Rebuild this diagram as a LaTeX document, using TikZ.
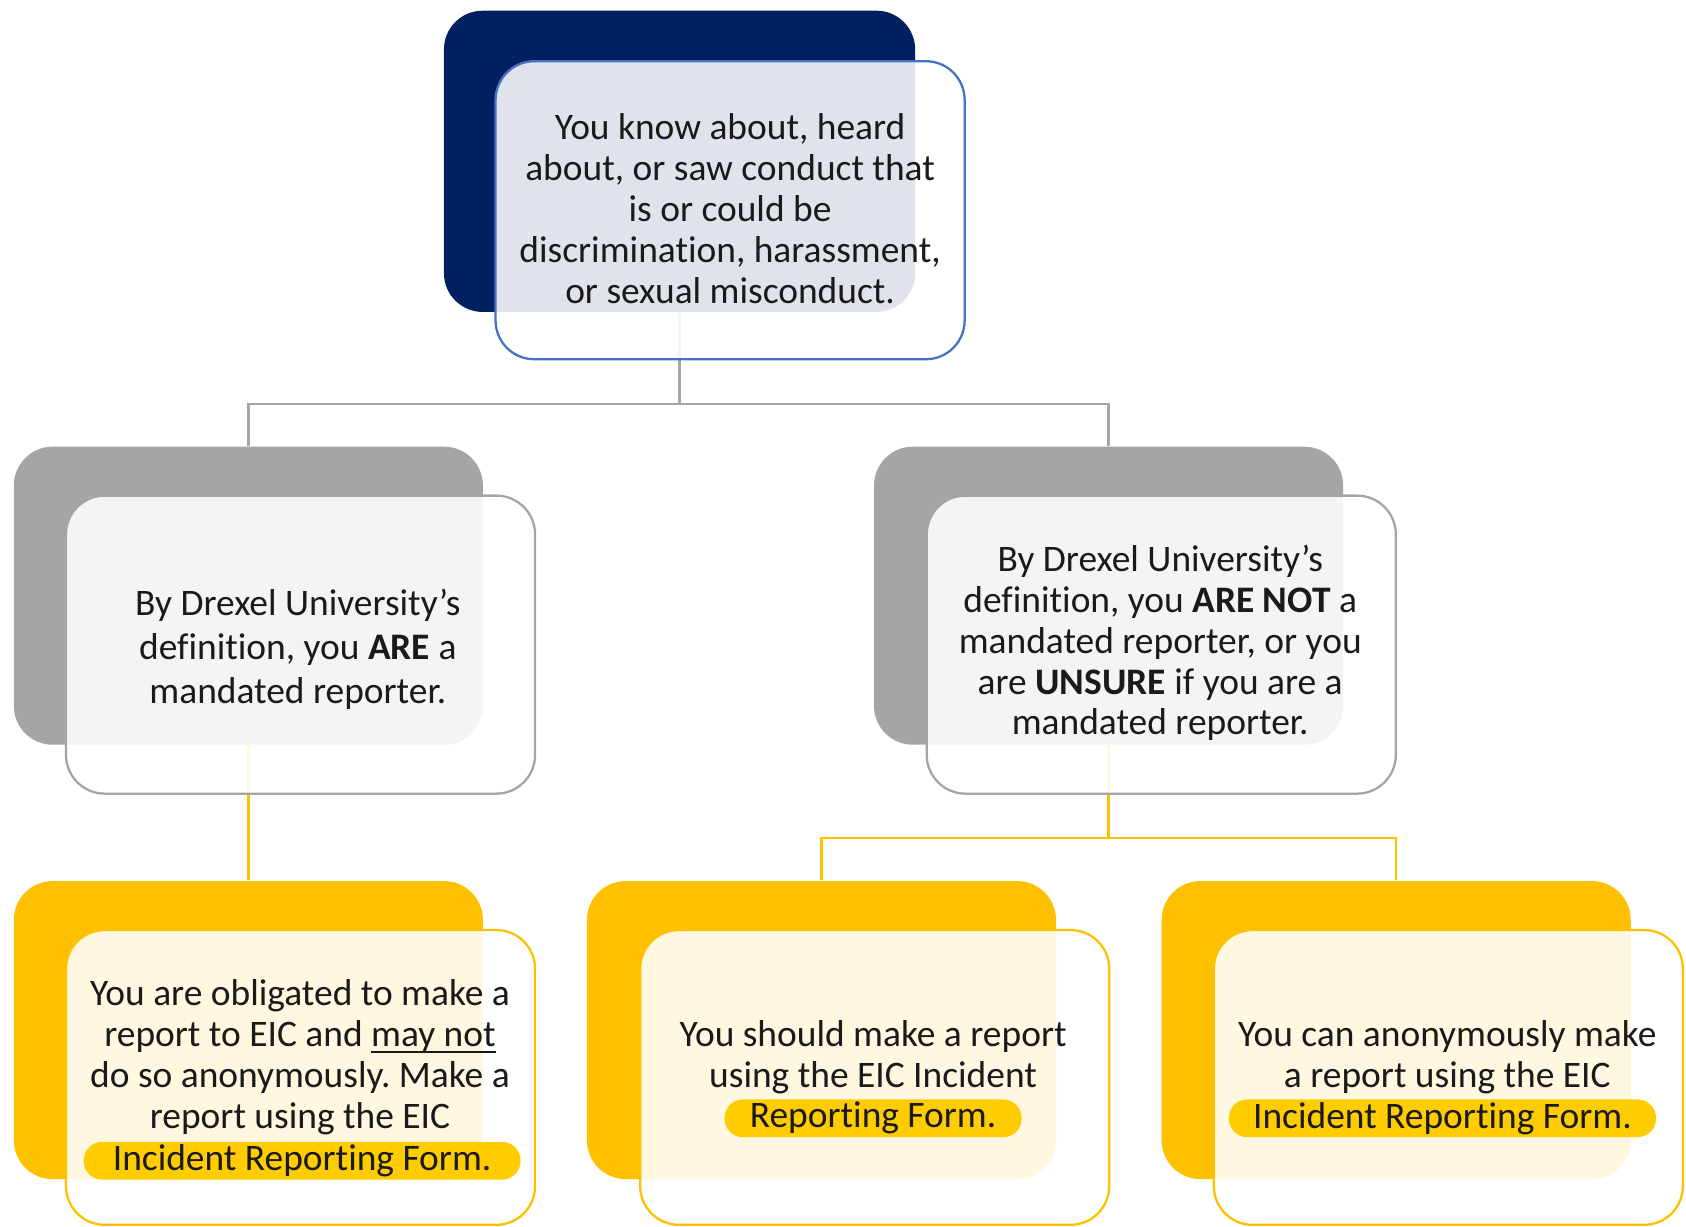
\documentclass[tikz,border=0pt]{standalone}
\usepackage{fontspec}
\setmainfont[RawFeature={-liga;-clig;-dlig}]{Carlito}
\frenchspacing
\newcommand\myul[1]{\setbox0\hbox{#1}\rlap{\rule[-1.7pt]{\wd0}{0.45pt}}\box0}
\definecolor{navy}{HTML}{002060}
\definecolor{grayb}{HTML}{A5A5A5}
\definecolor{yel}{HTML}{FFC000}
\definecolor{pillc}{HTML}{FFCC00}
\definecolor{blueb}{HTML}{4472C4}
\definecolor{txtc}{HTML}{1A1A1A}
\begin{document}
\begin{tikzpicture}[x=0.01cm,y=-0.01cm,
  backbox/.style={rectangle,rounded corners=0.36cm,draw=none,minimum width=4.36cm,minimum height=2.77cm,inner sep=0pt},
  frontbox/.style={rectangle,rounded corners=0.36cm,fill=white,fill opacity=0.88,line width=0.6pt,minimum width=4.36cm,minimum height=2.77cm,inner sep=0pt},
  txt/.style={align=center,text=txtc,font=\fontsize{9.9}{10.8}\selectfont,inner sep=0pt},
  pill/.style={rectangle,rounded corners=0.17cm,fill=pillc,text=txtc,font=\fontsize{9.9}{10.8}\selectfont,minimum height=0.35cm,inner sep=0pt},
  conn/.style={line width=0.6pt}]
\useasboundingbox (0,0) rectangle (1568,1141);
% back boxes
\node[backbox,fill=navy,minimum width=4.38cm,minimum height=2.80cm] (tb) at (632,150) {};
\node[backbox,fill=grayb] (lb) at (231,554) {};
\node[backbox,fill=grayb] (rb) at (1031,554) {};
\node[backbox,fill=yel] (ylb) at (231,958) {};
\node[backbox,fill=yel] (ymb) at (764,958) {};
\node[backbox,fill=yel] (yrb) at (1298.5,958) {};
% connectors
\coordinate (j1) at (632,376);
\coordinate (j2) at (1031,779);
\draw[conn,draw=grayb] (tb.south) -- (j1) -| (lb.north);
\draw[conn,draw=grayb] (j1) -| (rb.north);
\draw[conn,draw=yel] (lb.south) -- (ylb.north);
\draw[conn,draw=yel] (rb.south) -- (j2) -| (ymb.north);
\draw[conn,draw=yel] (j2) -| (yrb.north);
% front boxes
\node[frontbox,draw=blueb] (tf) at (679,195.5) {};
\node[frontbox,draw=grayb] (lf) at (279.5,599.5) {};
\node[frontbox,draw=grayb] (rf) at (1080,599.5) {};
\node[frontbox,draw=yel,minimum height=2.74cm] (ylf) at (279.5,1002) {};
\node[frontbox,draw=yel,minimum height=2.74cm] (ymf) at (813.5,1002) {};
\node[frontbox,draw=yel,minimum height=2.74cm] (yrf) at (1347,1002) {};
% texts
\node[txt] (tt) at (679,194) {You know about, heard\\about, or saw conduct that\\is or could be\\discrimination, harassment,\\or sexual misconduct.};
\node[txt,font=\fontsize{9.9}{11.6}\selectfont] (lt) at (277,604) {By Drexel University’s\\definition, you \textbf{ARE} a\\mandated reporter.};
\node[txt] (rt) at (1079,598) {By Drexel University’s\\definition, you \textbf{ARE NOT} a\\mandated reporter, or you\\are \textbf{UNSURE} if you are a\\mandated reporter.};
\node[txt] (ylt) at (279,983) {You are obligated to make a\\report to EIC and \myul{may not}\\do so anonymously. Make a\\report using the EIC};
\node[pill,minimum width=4.06cm] (ylp) at (281,1079.5) {Incident Reporting Form.};
\node[txt] (ymt) at (812,983) {You should make a report\\using the EIC Incident};
\node[pill,minimum width=2.76cm] (ymp) at (812,1040) {Reporting Form.};
\node[txt] (yrt) at (1346,983) {You can anonymously make\\a report using the EIC};
\node[pill,minimum width=3.97cm] (yrp) at (1341.5,1040) {Incident Reporting Form.};
\end{tikzpicture}
\end{document}
